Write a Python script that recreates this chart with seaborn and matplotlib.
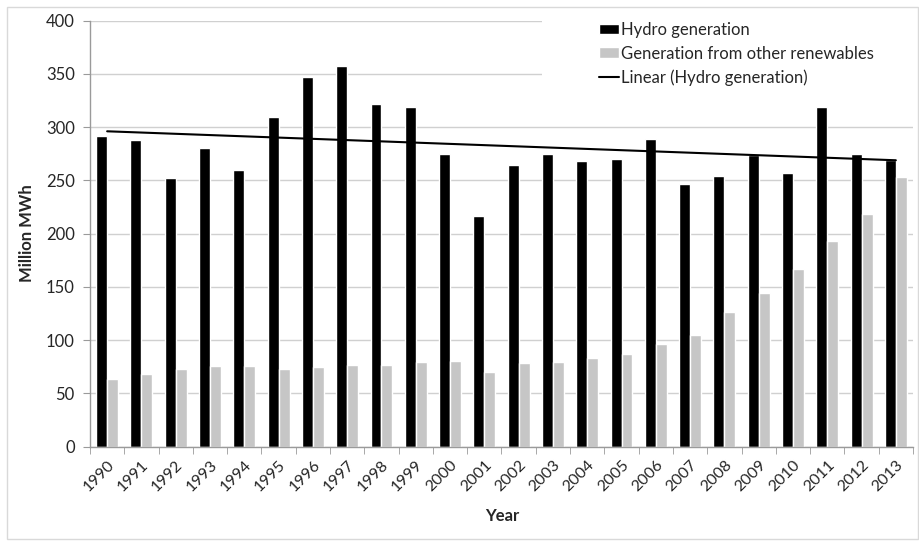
import pandas as pd
import matplotlib.pyplot as plt
import seaborn as sns
import numpy as np
from matplotlib.lines import Line2D
from matplotlib.patches import Rectangle

# Values (million MWh)
years = [str(y) for y in range(1990, 2014)]
hydro = [292, 288, 252, 280, 260, 310, 347, 357, 322, 319, 275, 217,
         264, 275, 268, 270, 289, 247, 254, 274, 257, 319, 275, 269]
other = [63, 68, 73, 76, 76, 73, 75, 77, 77, 79, 80, 70,
         78, 79, 83, 87, 96, 105, 126, 144, 167, 193, 218, 253]
series_names = ["Hydro generation", "Generation from other renewables"]
trend_label = "Linear (Hydro generation)"

df = pd.DataFrame({
    "Year": years * 2,
    "Value": hydro + other,
    "Series": [series_names[0]] * len(years) + [series_names[1]] * len(years),
})

sns.set_style("white")
plt.rcParams["font.family"] = ["Lato", "DejaVu Sans"]

fig = plt.figure(figsize=(9.19, 5.41), dpi=100)
ax = fig.add_axes([90 / 919, 94.5 / 541, 823 / 919, 425.8 / 541])

sns.barplot(data=df, x="Year", y="Value", hue="Series",
            palette=["#000000", "#c6c6c6"], width=0.64, saturation=1,
            ax=ax, legend=True)

# Linear trendline (as Excel computes it from the hydro series)
xs = np.arange(len(years))
slope, intercept = np.polyfit(xs, hydro, 1)
ax.plot(xs, slope * xs + intercept, color="black", lw=1.5, zorder=3)

ax.set_ylim(0, 400)
ax.set_xlim(-0.5, len(years) - 0.5)
ax.set_yticks(np.arange(0, 401, 50))
ax.yaxis.grid(True, color="#d0d0d0", lw=1)
ax.set_axisbelow(True)
for s in ["top", "right"]:
    ax.spines[s].set_visible(False)
for s in ["left", "bottom"]:
    ax.spines[s].set_color("#9a9a9a")
    ax.spines[s].set_linewidth(1)

ax.tick_params(axis="y", labelsize=12, length=5, color="#9a9a9a",
               direction="out", left=True, pad=6)
ax.set_xticks(xs)
ax.set_xticklabels(years, rotation=45, ha="right", rotation_mode="anchor",
                   fontsize=11.5)
ax.tick_params(axis="x", length=0, pad=8)
ax.set_xticks(np.arange(-0.5, len(years), 1), minor=True)
ax.tick_params(axis="x", which="minor", length=5, color="#9a9a9a",
               direction="out", bottom=True)

ax.set_ylabel("Million MWh", fontsize=12, fontweight="bold")
ax.set_xlabel("Year", fontsize=12, fontweight="bold")
ax.yaxis.set_label_coords(-0.067, 0.5)
ax.xaxis.set_label_coords(0.5006, -0.145)

# white legend area hides the upper gridlines, as in the original
ax.add_artist(Rectangle((542 / 919, 1 - 95 / 541), 375 / 919, 85 / 541,
                        transform=fig.transFigure, facecolor="white",
                        edgecolor="none", zorder=0.8))

handles, labels = ax.get_legend_handles_labels()
handles = handles[:2] + [Line2D([0], [0], color="black", lw=1.5)]
labels = series_names + [trend_label]
leg = ax.legend(handles, labels, loc="upper left",
                bbox_to_anchor=(584 / 919, 1 - 7 / 541),
                bbox_transform=fig.transFigure, frameon=True,
                fontsize=12, handlelength=1.2, handleheight=0.6,
                handletextpad=0.1, labelspacing=0.45, borderpad=0.4,
                fancybox=False)
leg.get_frame().set_edgecolor("white")
leg.get_frame().set_facecolor("white")
leg.get_frame().set_alpha(1)

# light outer chart border
fig.add_artist(Rectangle((7 / 919, 2 / 541), 911 / 919, 532 / 541,
                         transform=fig.transFigure, fill=False,
                         edgecolor="#d9d9d9", lw=1))

fig.savefig("out.png", dpi=100)
